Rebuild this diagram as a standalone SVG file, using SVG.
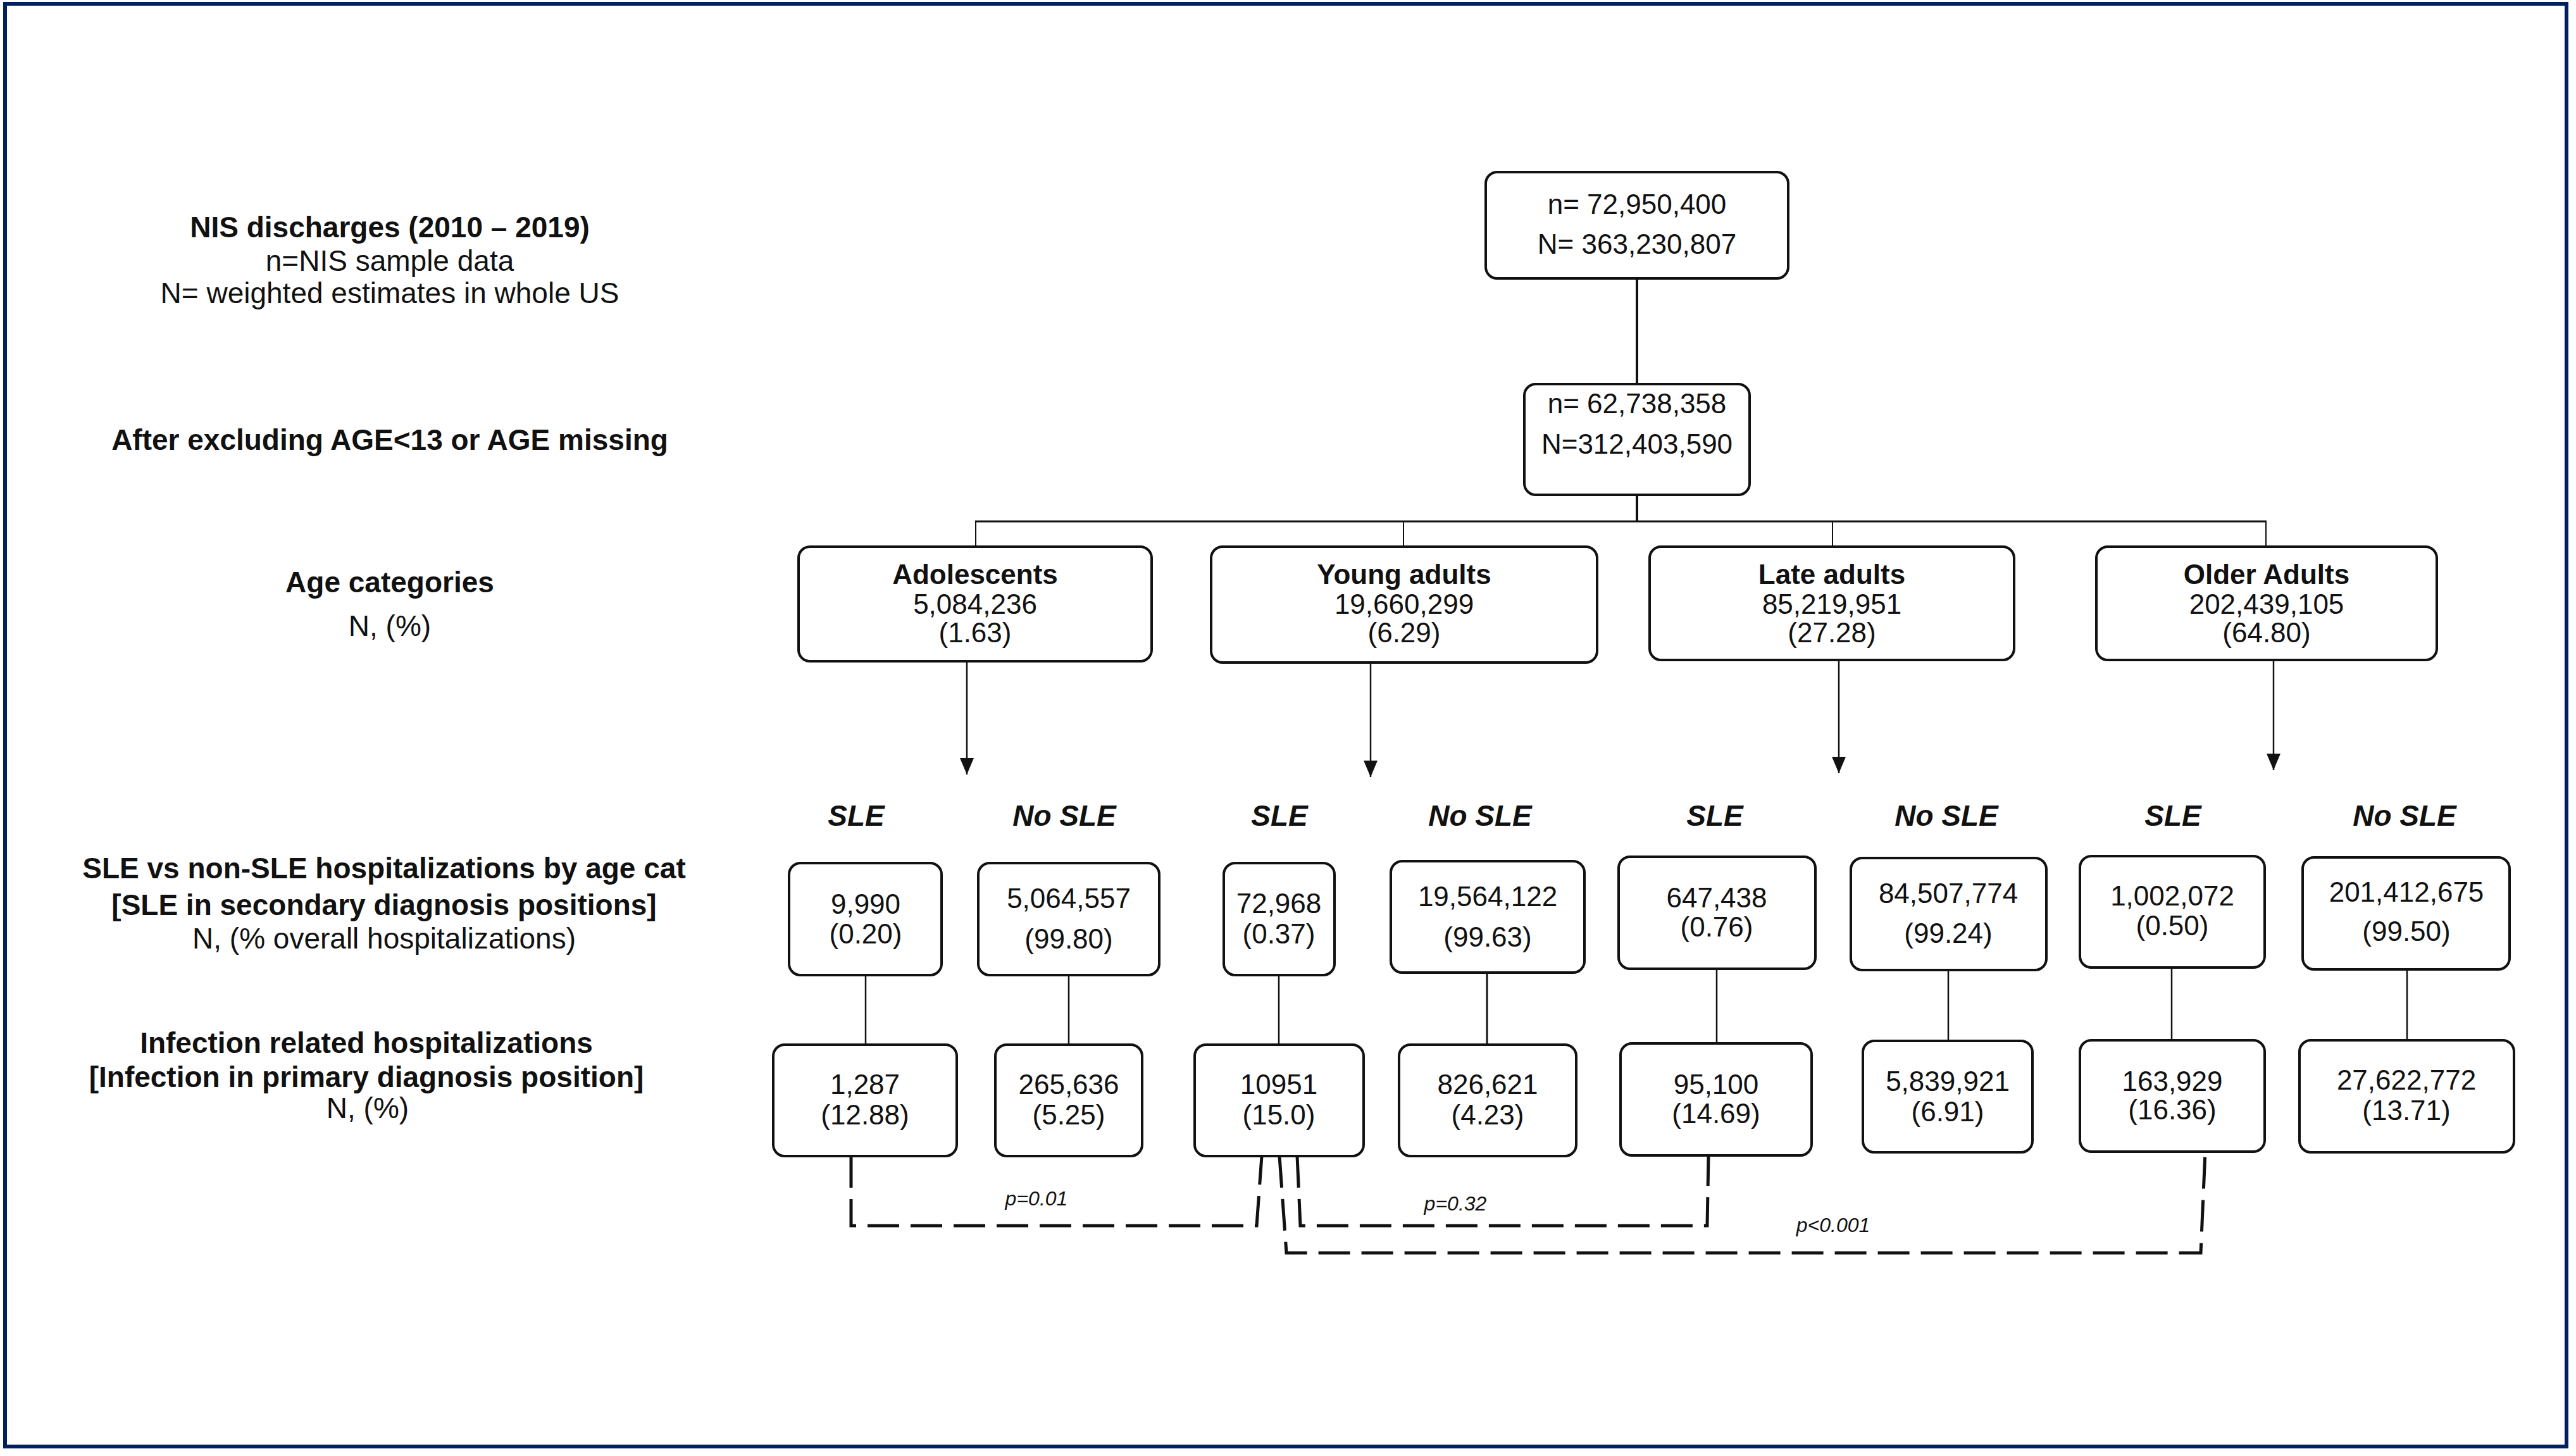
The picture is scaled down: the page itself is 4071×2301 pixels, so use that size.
<svg xmlns="http://www.w3.org/2000/svg" width="4071" height="2301" viewBox="0 0 4071 2301">
<style>
.bx{fill:#fff;stroke:#111;stroke-width:4}
.t{font-family:"Liberation Sans",Arial,sans-serif;font-size:44px;fill:#111;text-anchor:middle}
.tb{font-family:"Liberation Sans",Arial,sans-serif;font-size:44px;font-weight:bold;fill:#111;text-anchor:middle}
.lb{font-family:"Liberation Sans",Arial,sans-serif;font-size:46px;font-weight:bold;fill:#111;text-anchor:middle}
.lr{font-family:"Liberation Sans",Arial,sans-serif;font-size:46px;fill:#111;text-anchor:middle}
.sl{font-family:"Liberation Sans",Arial,sans-serif;font-size:46px;font-weight:bold;font-style:italic;fill:#111;text-anchor:middle}
.pv{font-family:"Liberation Sans",Arial,sans-serif;font-size:32px;font-style:italic;fill:#111;text-anchor:middle}
.c{fill:none;stroke:#111}
.dash{fill:none;stroke:#111;stroke-width:5;stroke-dasharray:50 18}
</style>
<defs>
<marker id="ah" viewBox="0 0 26 22" refX="26" refY="11" markerWidth="26" markerHeight="22" markerUnits="userSpaceOnUse" orient="auto">
<path d="M0 0 L26 11 L0 22 z" fill="#111"/>
</marker>
</defs>
<rect x="0" y="0" width="4071" height="2301" fill="#fff"/>
<rect x="8" y="6" width="4048" height="2280" fill="none" stroke="#002060" stroke-width="6"/>

<g id="side-labels">
<text class="lb" x="616" y="375">NIS discharges (2010 – 2019)</text>
<text class="lr" x="616" y="428">n=NIS sample data</text>
<text class="lr" x="616" y="479">N= weighted estimates in whole US</text>
<text class="lb" x="616" y="711">After excluding AGE&lt;13 or AGE missing</text>
<text class="lb" x="616" y="936">Age categories</text>
<text class="lr" x="616" y="1005">N, (%)</text>
<text class="lb" x="607" y="1388">SLE vs non-SLE hospitalizations by age cat</text>
<text class="lb" x="607" y="1446">[SLE in secondary diagnosis positions]</text>
<text class="lr" x="607" y="1499">N, (% overall hospitalizations)</text>
<text class="lb" x="579" y="1664">Infection related hospitalizations</text>
<text class="lb" x="579" y="1718">[Infection in primary diagnosis position]</text>
<text class="lr" x="581" y="1767">N, (%)</text>
</g>

<g id="connectors">
<line class="c" stroke-width="4" x1="2587" y1="440" x2="2587" y2="607"/>
<line class="c" stroke-width="4" x1="2587" y1="782" x2="2587" y2="824"/>
<line class="c" stroke-width="3" x1="1541" y1="824" x2="3582" y2="824"/>
<line class="c" stroke-width="2" x1="1542" y1="824" x2="1542" y2="864"/>
<line class="c" stroke-width="2" x1="2218" y1="824" x2="2218" y2="864"/>
<line class="c" stroke-width="2" x1="2896" y1="824" x2="2896" y2="864"/>
<line class="c" stroke-width="2" x1="3581" y1="824" x2="3581" y2="864"/>
<line class="c" stroke-width="2.5" x1="1528" y1="1045" x2="1528" y2="1224" marker-end="url(#ah)"/>
<line class="c" stroke-width="2.5" x1="2166" y1="1047" x2="2166" y2="1228" marker-end="url(#ah)"/>
<line class="c" stroke-width="2.5" x1="2906" y1="1043" x2="2906" y2="1222" marker-end="url(#ah)"/>
<line class="c" stroke-width="2.5" x1="3593" y1="1043" x2="3593" y2="1217" marker-end="url(#ah)"/>
<line class="c" stroke-width="2.5" x1="1368" y1="1541" x2="1368" y2="1651"/>
<line class="c" stroke-width="2.5" x1="1689" y1="1541" x2="1689" y2="1651"/>
<line class="c" stroke-width="2.5" x1="2021" y1="1541" x2="2021" y2="1651"/>
<line class="c" stroke-width="3" x1="2350" y1="1537" x2="2350" y2="1651"/>
<line class="c" stroke-width="2.5" x1="2713" y1="1531" x2="2713" y2="1649"/>
<line class="c" stroke-width="2.5" x1="3079" y1="1533" x2="3079" y2="1645"/>
<line class="c" stroke-width="2.5" x1="3432" y1="1529" x2="3432" y2="1644"/>
<line class="c" stroke-width="2.5" x1="3804" y1="1532" x2="3804" y2="1644"/>
<path class="dash" d="M1345 1827 V1937 H1986 L1994 1827"/>
<path class="dash" d="M2050 1827 L2055 1937 H2698 L2700 1826"/>
<path class="dash" d="M2022 1827 L2033 1980 H3478 L3485 1820"/>
<text class="pv" x="1638" y="1905">p=0.01</text>
<text class="pv" x="2300" y="1913">p=0.32</text>
<text class="pv" x="2897" y="1947">p&lt;0.001</text>
</g>

<g id="n-total">
<rect class="bx" x="2348" y="272" width="478" height="168" rx="18"/>
<text class="t" x="2587" y="338">n= 72,950,400</text>
<text class="t" x="2587" y="401">N= 363,230,807</text>
</g>
<g id="n-after-exclusion">
<rect class="bx" x="2409" y="607" width="356" height="175" rx="18"/>
<text class="t" x="2587" y="653">n= 62,738,358</text>
<text class="t" x="2587" y="717">N=312,403,590</text>
</g>

<g id="age-adolescents">
<rect class="bx" x="1262" y="864" width="558" height="181" rx="18"/>
<text class="tb" x="1541" y="923">Adolescents</text>
<text class="t" x="1541" y="970">5,084,236</text>
<text class="t" x="1541" y="1015">(1.63)</text>
</g>
<g id="age-young">
<rect class="bx" x="1914" y="864" width="610" height="183" rx="18"/>
<text class="tb" x="2219" y="923">Young adults</text>
<text class="t" x="2219" y="970">19,660,299</text>
<text class="t" x="2219" y="1015">(6.29)</text>
</g>
<g id="age-late">
<rect class="bx" x="2607" y="864" width="576" height="179" rx="18"/>
<text class="tb" x="2895" y="923">Late adults</text>
<text class="t" x="2895" y="970">85,219,951</text>
<text class="t" x="2895" y="1015">(27.28)</text>
</g>
<g id="age-older">
<rect class="bx" x="3313" y="864" width="538" height="179" rx="18"/>
<text class="tb" x="3582" y="923">Older Adults</text>
<text class="t" x="3582" y="970">202,439,105</text>
<text class="t" x="3582" y="1015">(64.80)</text>
</g>

<g id="sle-labels">
<text class="sl" x="1353" y="1305">SLE</text>
<text class="sl" x="1682" y="1305">No SLE</text>
<text class="sl" x="2022" y="1305">SLE</text>
<text class="sl" x="2339" y="1305">No SLE</text>
<text class="sl" x="2710" y="1305">SLE</text>
<text class="sl" x="3076" y="1305">No SLE</text>
<text class="sl" x="3434" y="1305">SLE</text>
<text class="sl" x="3800" y="1305">No SLE</text>
</g>

<g id="adol-sle">
<rect class="bx" x="1247" y="1364" width="241" height="177" rx="18"/>
<text class="t" x="1368" y="1444">9,990</text>
<text class="t" x="1368" y="1491">(0.20)</text>
</g>
<g id="adol-nosle">
<rect class="bx" x="1546" y="1364" width="286" height="177" rx="18"/>
<text class="t" x="1689" y="1435">5,064,557</text>
<text class="t" x="1689" y="1499">(99.80)</text>
</g>
<g id="young-sle">
<rect class="bx" x="1934" y="1364" width="175" height="177" rx="18"/>
<text class="t" x="2021" y="1443">72,968</text>
<text class="t" x="2021" y="1491">(0.37)</text>
</g>
<g id="young-nosle">
<rect class="bx" x="2198" y="1361" width="306" height="176" rx="18"/>
<text class="t" x="2351" y="1432">19,564,122</text>
<text class="t" x="2351" y="1496">(99.63)</text>
</g>
<g id="late-sle">
<rect class="bx" x="2558" y="1354" width="311" height="177" rx="18"/>
<text class="t" x="2713" y="1434">647,438</text>
<text class="t" x="2713" y="1480">(0.76)</text>
</g>
<g id="late-nosle">
<rect class="bx" x="2925" y="1356" width="309" height="177" rx="18"/>
<text class="t" x="3079" y="1427">84,507,774</text>
<text class="t" x="3079" y="1490">(99.24)</text>
</g>
<g id="older-sle">
<rect class="bx" x="3287" y="1353" width="292" height="176" rx="18"/>
<text class="t" x="3433" y="1431">1,002,072</text>
<text class="t" x="3433" y="1478">(0.50)</text>
</g>
<g id="older-nosle">
<rect class="bx" x="3639" y="1355" width="327" height="177" rx="18"/>
<text class="t" x="3803" y="1425">201,412,675</text>
<text class="t" x="3803" y="1487">(99.50)</text>
</g>

<g id="adol-sle-inf">
<rect class="bx" x="1222" y="1651" width="290" height="176" rx="18"/>
<text class="t" x="1367" y="1729">1,287</text>
<text class="t" x="1367" y="1777">(12.88)</text>
</g>
<g id="adol-nosle-inf">
<rect class="bx" x="1573" y="1651" width="232" height="176" rx="18"/>
<text class="t" x="1689" y="1729">265,636</text>
<text class="t" x="1689" y="1777">(5.25)</text>
</g>
<g id="young-sle-inf">
<rect class="bx" x="1888" y="1651" width="267" height="176" rx="18"/>
<text class="t" x="2021" y="1729">10951</text>
<text class="t" x="2021" y="1777">(15.0)</text>
</g>
<g id="young-nosle-inf">
<rect class="bx" x="2211" y="1651" width="280" height="176" rx="18"/>
<text class="t" x="2351" y="1729">826,621</text>
<text class="t" x="2351" y="1777">(4.23)</text>
</g>
<g id="late-sle-inf">
<rect class="bx" x="2561" y="1649" width="302" height="177" rx="18"/>
<text class="t" x="2712" y="1729">95,100</text>
<text class="t" x="2712" y="1775">(14.69)</text>
</g>
<g id="late-nosle-inf">
<rect class="bx" x="2944" y="1645" width="268" height="176" rx="18"/>
<text class="t" x="3078" y="1724">5,839,921</text>
<text class="t" x="3078" y="1772">(6.91)</text>
</g>
<g id="older-sle-inf">
<rect class="bx" x="3287" y="1644" width="292" height="176" rx="18"/>
<text class="t" x="3433" y="1724">163,929</text>
<text class="t" x="3433" y="1769">(16.36)</text>
</g>
<g id="older-nosle-inf">
<rect class="bx" x="3634" y="1644" width="339" height="177" rx="18"/>
<text class="t" x="3803" y="1722">27,622,772</text>
<text class="t" x="3803" y="1770">(13.71)</text>
</g>
</svg>
